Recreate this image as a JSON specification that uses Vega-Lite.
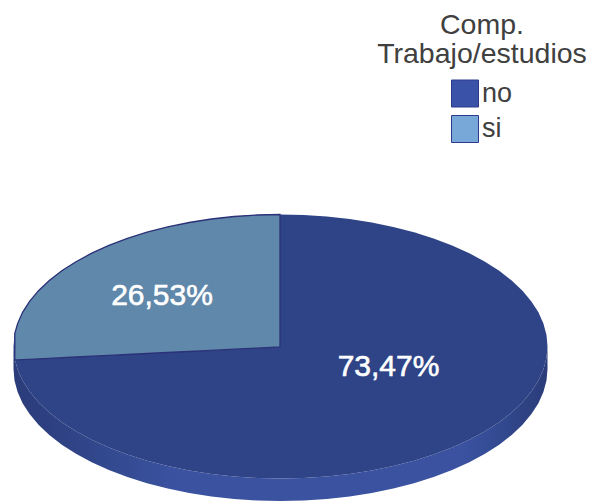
{
  "$schema": "https://vega.github.io/schema/vega-lite/v6.json",
  "width": 590,
  "height": 502,
  "autosize": {"type": "fit", "contains": "padding"},
  "padding": 0,
  "background": "white",
  "config": {"view": {"stroke": null}, "font": "Liberation Sans"},
  "datasets": {
    "rim": [
      {"x": -267, "upper": 0, "lower": 0, "outer": -22.5},
      {"x": -266, "upper": 11.5, "lower": -11.5, "outer": -34},
      {"x": -262.9, "upper": 22.9, "lower": -22.9, "outer": -45.4},
      {"x": -257.9, "upper": 34.2, "lower": -34.2, "outer": -56.7},
      {"x": -250.9, "upper": 45.1, "lower": -45.1, "outer": -67.6},
      {"x": -242, "upper": 55.8, "lower": -55.8, "outer": -78.3},
      {"x": -231.2, "upper": 66, "lower": -66, "outer": -88.5},
      {"x": -218.7, "upper": 75.7, "lower": -75.7, "outer": -98.2},
      {"x": -204.5, "upper": 84.8, "lower": -84.8, "outer": -107.3},
      {"x": -188.8, "upper": 93.3, "lower": -93.3, "outer": -115.8},
      {"x": -171.6, "upper": 101.1, "lower": -101.1, "outer": -123.6},
      {"x": -153.1, "upper": 108.1, "lower": -108.1, "outer": -130.6},
      {"x": -133.5, "upper": 114.3, "lower": -114.3, "outer": -136.8},
      {"x": -112.8, "upper": 119.6, "lower": -119.6, "outer": -142.1},
      {"x": -91.3, "upper": 124, "lower": -124, "outer": -146.5},
      {"x": -69.1, "upper": 127.5, "lower": -127.5, "outer": -150},
      {"x": -46.4, "upper": 130, "lower": -130, "outer": -152.5},
      {"x": -23.3, "upper": 131.5, "lower": -131.5, "outer": -154},
      {"x": 0, "upper": 132, "lower": -132, "outer": -154.5},
      {"x": 23.3, "upper": 131.5, "lower": -131.5, "outer": -154},
      {"x": 46.4, "upper": 130, "lower": -130, "outer": -152.5},
      {"x": 69.1, "upper": 127.5, "lower": -127.5, "outer": -150},
      {"x": 91.3, "upper": 124, "lower": -124, "outer": -146.5},
      {"x": 112.8, "upper": 119.6, "lower": -119.6, "outer": -142.1},
      {"x": 133.5, "upper": 114.3, "lower": -114.3, "outer": -136.8},
      {"x": 153.1, "upper": 108.1, "lower": -108.1, "outer": -130.6},
      {"x": 171.6, "upper": 101.1, "lower": -101.1, "outer": -123.6},
      {"x": 188.8, "upper": 93.3, "lower": -93.3, "outer": -115.8},
      {"x": 204.5, "upper": 84.8, "lower": -84.8, "outer": -107.3},
      {"x": 218.7, "upper": 75.7, "lower": -75.7, "outer": -98.2},
      {"x": 231.2, "upper": 66, "lower": -66, "outer": -88.5},
      {"x": 242, "upper": 55.8, "lower": -55.8, "outer": -78.3},
      {"x": 250.9, "upper": 45.1, "lower": -45.1, "outer": -67.6},
      {"x": 257.9, "upper": 34.2, "lower": -34.2, "outer": -56.7},
      {"x": 262.9, "upper": 22.9, "lower": -22.9, "outer": -45.4},
      {"x": 266, "upper": 11.5, "lower": -11.5, "outer": -34},
      {"x": 267, "upper": 0, "lower": 0, "outer": -22.5}
    ],
    "siSlice": [
      {"x": -265.7, "upper": 13, "lower": -13.5},
      {"x": -262.9, "upper": 22.9, "lower": -13.4},
      {"x": -257.9, "upper": 34.2, "lower": -13.1},
      {"x": -250.9, "upper": 45.1, "lower": -12.8},
      {"x": -242, "upper": 55.8, "lower": -12.3},
      {"x": -231.2, "upper": 66, "lower": -11.8},
      {"x": -218.7, "upper": 75.7, "lower": -11.2},
      {"x": -204.5, "upper": 84.8, "lower": -10.5},
      {"x": -188.8, "upper": 93.3, "lower": -9.7},
      {"x": -171.6, "upper": 101.1, "lower": -8.9},
      {"x": -153.1, "upper": 108.1, "lower": -8},
      {"x": -133.5, "upper": 114.3, "lower": -7},
      {"x": -112.8, "upper": 119.6, "lower": -6},
      {"x": -91.3, "upper": 124, "lower": -5},
      {"x": -69.1, "upper": 127.5, "lower": -3.9},
      {"x": -46.4, "upper": 130, "lower": -2.7},
      {"x": -23.3, "upper": 131.5, "lower": -1.6},
      {"x": -0.5, "upper": 132, "lower": -0.5}
    ],
    "shares": [
      {"category": "no", "share": 73.47, "label": "73,47%", "x": 108, "y": -20.5},
      {"category": "si", "share": 26.53, "label": "26,53%", "x": -118.5, "y": 50.5}
    ]
  },
  "layer": [
    {
      "data": {"name": "rim"},
      "mark": {
        "type": "area",
        "fill": {
          "x1": 0, "x2": 1, "y1": 0, "y2": 0,
          "gradient": "linear",
          "stops": [
            {"offset": 0, "color": "#2B3C7A"},
            {"offset": 0.06, "color": "#2D3F80"},
            {"offset": 0.14, "color": "#31468A"},
            {"offset": 0.3, "color": "#3A52A0"},
            {"offset": 0.84, "color": "#3A52A0"},
            {"offset": 0.9, "color": "#344B94"},
            {"offset": 0.95, "color": "#2F4384"},
            {"offset": 1, "color": "#2B3C7A"}
          ]
        }
      },
      "encoding": {
        "x": {"field": "x", "type": "quantitative", "axis": null, "scale": {"domain": [-280.5, 309.5], "nice": false, "zero": false}},
        "y": {"field": "lower", "type": "quantitative", "axis": null, "scale": {"domain": [-155.5, 346.5], "nice": false, "zero": false}},
        "y2": {"field": "outer"}
      }
    },
    {
      "data": {"name": "rim"},
      "mark": {"type": "area", "fill": "#2F4487"},
      "encoding": {
        "x": {"field": "x", "type": "quantitative", "axis": null, "scale": {"domain": [-280.5, 309.5], "nice": false, "zero": false}},
        "y": {"field": "upper", "type": "quantitative", "axis": null, "scale": {"domain": [-155.5, 346.5], "nice": false, "zero": false}},
        "y2": {"field": "lower"}
      }
    },
    {
      "data": {"name": "siSlice"},
      "mark": {"type": "area", "fill": "#6088AA", "stroke": "#2B3278", "strokeWidth": 1.3},
      "encoding": {
        "x": {"field": "x", "type": "quantitative", "axis": null, "scale": {"domain": [-280.5, 309.5], "nice": false, "zero": false}},
        "y": {"field": "upper", "type": "quantitative", "axis": null, "scale": {"domain": [-155.5, 346.5], "nice": false, "zero": false}},
        "y2": {"field": "lower"}
      }
    },
    {
      "data": {"name": "shares"},
      "mark": {"type": "square", "size": 0, "filled": true},
      "encoding": {
        "x": {"field": "x", "type": "quantitative", "axis": null, "scale": {"domain": [-280.5, 309.5], "nice": false, "zero": false}},
        "y": {"field": "y", "type": "quantitative", "axis": null, "scale": {"domain": [-155.5, 346.5], "nice": false, "zero": false}},
        "color": {
          "field": "category",
          "type": "nominal",
          "scale": {"domain": ["no", "si"], "range": ["#3A53A8", "#78A8D8"]},
          "legend": {
            "title": ["Comp.", "Trabajo/estudios"],
            "orient": "none",
            "legendX": 377,
            "legendY": 11,
            "symbolType": "square",
            "symbolSize": 729,
            "symbolStrokeColor": "#2D3A8C",
            "symbolStrokeWidth": 1,
            "symbolOpacity": 1,
            "rowPadding": 3.5,
            "labelFont": "Liberation Sans",
            "labelFontSize": 27,
            "labelColor": "#404040",
            "labelOffset": 3,
            "titleFont": "Liberation Sans",
            "titleFontSize": 28.5,
            "titleFontWeight": "normal",
            "titleColor": "#404040",
            "titleLineHeight": 29,
            "titleAlign": "center",
            "titleAnchor": "middle",
            "titleLimit": 300,
            "titlePadding": 11,
            "encoding": {"labels": {"update": {"dy": {"value": 4}}}}
          }
        }
      }
    },
    {
      "data": {"name": "shares"},
      "mark": {"type": "text", "color": "white", "font": "Liberation Sans", "fontSize": 30, "fontWeight": "normal", "stroke": "white", "strokeWidth": 0.6, "align": "center", "baseline": "middle"},
      "encoding": {
        "x": {"field": "x", "type": "quantitative", "axis": null, "scale": {"domain": [-280.5, 309.5], "nice": false, "zero": false}},
        "y": {"field": "y", "type": "quantitative", "axis": null, "scale": {"domain": [-155.5, 346.5], "nice": false, "zero": false}},
        "text": {"field": "label"}
      }
    }
  ]
}
